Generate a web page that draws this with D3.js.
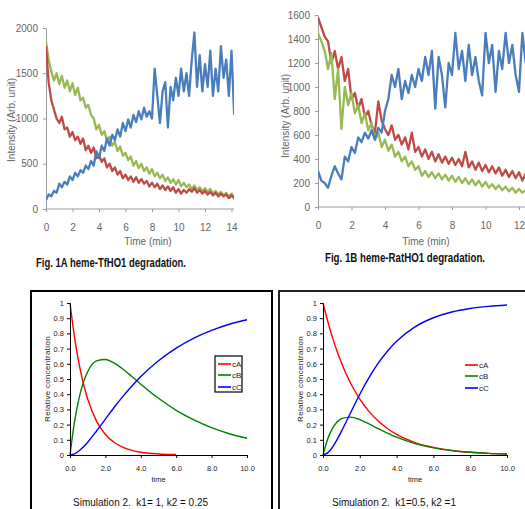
<!DOCTYPE html>
<html><head><meta charset="utf-8">
<script src="https://cdn.jsdelivr.net/npm/d3@7"></script>
<style>body{margin:0;background:#fff}svg{display:block}</style></head>
<body>
<script>
// ---------- Fig 1A: heme-TfHO1 degradation ----------
const timeA = [0,0.2,0.4,0.6,0.8,1,1.2,1.4,1.6,1.8,2,2.2,2.4,2.6,2.8,3,3.2,3.4,3.6,3.8,4,4.2,4.4,4.6,4.8,5,5.2,5.4,5.6,5.8,6,6.2,6.4,6.6,6.8,7,7.2,7.4,7.6,7.8,8,8.2,8.4,8.6,8.8,9,9.2,9.4,9.6,9.8,10,10.2,10.4,10.6,10.8,11,11.2,11.4,11.6,11.8,12,12.2,12.4,12.6,12.8,13,13.2,13.4,13.6,13.8,14,14.2,14.4];
const greenA = [1850,1650,1520,1420,1500,1380,1470,1340,1420,1300,1390,1260,1340,1200,1230,1120,1150,1040,1000,880,930,820,860,760,800,700,740,640,690,590,620,540,580,480,530,450,500,420,460,390,440,360,400,340,380,310,350,290,330,270,320,250,290,240,270,220,260,210,240,200,230,190,220,170,200,160,190,150,180,140,170,130,150];
const redA = [1800,1400,1200,1100,1000,950,1020,880,900,800,850,760,800,720,780,650,700,620,680,560,600,520,560,460,500,420,460,380,420,340,380,320,360,300,350,290,330,280,310,250,290,240,280,220,260,210,250,200,240,180,220,170,210,180,220,190,230,180,210,170,200,160,190,150,180,140,170,140,160,120,150,120,140];
const blueA = [100,160,140,200,180,280,240,300,270,360,320,400,360,430,400,480,440,530,480,640,560,700,640,780,700,820,760,880,800,950,860,990,900,1040,960,1080,990,1120,1020,1080,1000,1550,1250,950,1300,1400,900,1350,1200,1450,1250,1550,1300,1500,1250,1650,1950,1350,1700,1300,1600,1350,1750,1250,1550,1300,1800,1450,1650,1250,1750,1050,1500];
const xTicksA = [0,2,4,6,8,10,12,14];
const yTicksA = [0,500,1000,1500,2000];

// ---------- Fig 1B: heme-RatHO1 degradation ----------
const timeB = [0,0.2,0.4,0.6,0.8,1,1.2,1.4,1.6,1.8,2,2.2,2.4,2.6,2.8,3,3.2,3.4,3.6,3.8,4,4.2,4.4,4.6,4.8,5,5.2,5.4,5.6,5.8,6,6.2,6.4,6.6,6.8,7,7.2,7.4,7.6,7.8,8,8.2,8.4,8.6,8.8,9,9.2,9.4,9.6,9.8,10,10.2,10.4,10.6,10.8,11,11.2,11.4,11.6,11.8,12,12.2,12.4];
const redB = [1580,1500,1420,1380,1200,1300,1150,1250,1050,1150,900,950,820,900,750,800,680,620,880,720,650,600,680,560,600,520,580,480,620,460,500,420,480,400,460,380,440,370,420,360,410,350,400,340,460,330,380,310,370,300,350,290,340,280,330,260,310,250,300,240,290,220,280];
const greenB = [1450,1380,1300,1150,1280,900,1150,650,1000,850,950,780,850,700,780,640,700,560,620,500,560,470,520,420,460,380,420,340,380,310,340,260,300,250,290,240,280,230,270,220,260,210,250,200,240,190,230,180,220,170,210,160,190,150,180,140,170,130,160,120,150,120,140];
const blueB = [300,220,200,160,260,340,280,230,420,380,500,450,580,540,620,570,640,560,660,620,800,900,1100,1000,1150,900,1050,950,1100,1000,1150,1050,1250,1100,1300,820,1250,1100,830,1200,1100,1450,1150,1300,1050,1350,1100,1250,1050,930,1450,1200,1350,960,1300,1150,1450,1200,1350,1100,960,1450,1200];
const xTicksB = [0,2,4,6,8,10,12];
const yTicksB = [0,200,400,600,800,1000,1200,1400,1600];

// ---------- Simulations ----------
const simTime = [0,0.25,0.5,0.75,1,1.5,2,2.5,3,3.5,4,5,6,7,8,9,10];
const sim1A = [1,0.779,0.607,0.472,0.368,0.223,0.135,0.082,0.050,0.030,0.018,0.007,0.003,null,null,null,null];
const sim1B = [0,0.214,0.368,0.476,0.548,0.619,0.628,0.604,0.564,0.516,0.466,0.373,0.294,0.231,0.180,0.140,0.110];
const sim1C = [0,0.007,0.026,0.052,0.084,0.158,0.236,0.314,0.387,0.454,0.516,0.620,0.703,0.769,0.820,0.860,0.890];
const sim2A = [1,0.883,0.779,0.687,0.607,0.472,0.368,0.287,0.223,0.174,0.135,0.082,0.050,0.030,0.018,0.011,0.007];
const sim2B = [0,0.104,0.172,0.215,0.239,0.249,0.233,0.204,0.173,0.144,0.117,0.075,0.047,0.029,0.018,0.011,0.007];
const sim2C = [0,0.014,0.049,0.098,0.155,0.278,0.400,0.509,0.604,0.683,0.748,0.843,0.903,0.941,0.964,0.978,0.987];
const simXTicks = [0,2,4,6,8,10];
const simYTicks = [0,0.1,0.2,0.3,0.4,0.5,0.6,0.7,0.8,0.9,1];
const simLegend = ["cA","cB","cC"];

const W = 525, H = 509;
const svg = d3.select("body").append("svg").attr("width", W).attr("height", H)
  .style("background", "#fff");

const xlColors = {blue:"#4A7EBB", red:"#BE4B48", green:"#98B954"};
const SANS = "'Liberation Sans', Arial, sans-serif";
const NARROW = "'Liberation Sans Narrow', 'Liberation Sans', Arial, sans-serif";

function topChart(cfg) {
  const g = svg.append("g");
  const x = d3.scaleLinear().domain(cfg.xDomain).range(cfg.xRange);
  const y = d3.scaleLinear().domain(cfg.yDomain).range(cfg.yRange);
  const clipId = "clip" + cfg.id;
  svg.append("clipPath").attr("id", clipId).append("rect")
    .attr("x", cfg.xRange[0]).attr("y", 0)
    .attr("width", cfg.clipRight - cfg.xRange[0]).attr("height", cfg.yRange[0] + 2);

  const xa = g.append("g").attr("transform", `translate(0,${cfg.yRange[0]})`)
    .call(d3.axisBottom(x).tickValues(cfg.xTicks).tickFormat(d3.format("d")).tickSize(3).tickSizeOuter(0).tickPadding(12));
  const ya = g.append("g").attr("transform", `translate(${cfg.xRange[0]},0)`)
    .call(d3.axisLeft(y).tickValues(cfg.yTicks).tickFormat(d3.format("d")).tickSize(3).tickSizeOuter(0).tickPadding(5));
  [xa, ya].forEach(a => {
    a.select(".domain").attr("stroke", "#9a9a9a");
    a.selectAll(".tick line").attr("stroke", "#9a9a9a");
    a.selectAll("text").attr("fill", "#666").style("font-family", NARROW).style("font-size", "10px");
  });
  xa.select(".domain").attr("d", `M${cfg.xRange[0]},0H${cfg.axisRight}`);

  const line = d3.line().x((d, i) => x(cfg.time[i])).y(d => y(d));
  const lines = g.append("g").attr("clip-path", `url(#${clipId})`);
  cfg.series.forEach(s => {
    lines.append("path").datum(s.values).attr("d", line)
      .attr("fill", "none").attr("stroke", s.color).attr("stroke-width", 2.3)
      .attr("stroke-linejoin", "round");
  });

  g.append("text").attr("x", cfg.xTitle[0]).attr("y", cfg.xTitle[1])
    .attr("text-anchor", "middle").attr("fill", "#666")
    .style("font-family", NARROW).style("font-size", "10px").text("Time (min)");
  g.append("text").attr("transform", `translate(${cfg.yTitle[0]},${cfg.yTitle[1]}) rotate(-90)`)
    .attr("text-anchor", "middle").attr("fill", "#666")
    .style("font-family", NARROW).style("font-size", "10px").text("Intensity (Arb. unit)");
  g.append("text").attr("x", cfg.caption[0]).attr("y", cfg.caption[1])
    .attr("textLength", cfg.caption[2]).attr("lengthAdjust", "spacingAndGlyphs")
    .attr("fill", "#111").style("font-family", SANS).style("font-weight", "bold")
    .style("font-size", "12px").text(cfg.captionText);
}

topChart({
  id: "A", time: timeA, xDomain: [0, 14], xRange: [46, 231.5], yDomain: [0, 2000], yRange: [209, 28],
  clipRight: 234, axisRight: 234, xTicks: xTicksA, yTicks: yTicksA,
  series: [{values: greenA, color: xlColors.green}, {values: redA, color: xlColors.red}, {values: blueA, color: xlColors.blue}],
  xTitle: [148, 245], yTitle: [15, 120], caption: [36, 267, 150],
  captionText: "Fig. 1A heme-TfHO1 degradation."
});
topChart({
  id: "B", time: timeB, xDomain: [0, 12], xRange: [318, 519], yDomain: [0, 1600], yRange: [207, 15],
  clipRight: 525, axisRight: 525, xTicks: xTicksB, yTicks: yTicksB,
  series: [{values: redB, color: xlColors.red}, {values: greenB, color: xlColors.green}, {values: blueB, color: xlColors.blue}],
  xTitle: [426, 245], yTitle: [289, 116], caption: [325, 262, 160],
  captionText: "Fig. 1B heme-RatHO1 degradation."
});

// ---------- bottom simulation panels ----------
svg.append("rect").attr("x", 31).attr("y", 291).attr("width", 241).attr("height", 240)
  .attr("fill", "none").attr("stroke", "#000").attr("stroke-width", 2);
svg.append("rect").attr("x", 279).attr("y", 291).attr("width", 260).attr("height", 240)
  .attr("fill", "none").attr("stroke", "#222").attr("stroke-width", 2);

function simChart(cfg) {
  const g = svg.append("g");
  const x = d3.scaleLinear().domain([0, 10]).range(cfg.xRange);
  const y = d3.scaleLinear().domain([0, 1]).range([455, 303]);
  const line = d3.line().defined(d => d != null).curve(d3.curveMonotoneX)
    .x((d, i) => x(simTime[i])).y(d => y(d));
  const colors = ["#ff0000", "#008000", "#0000ff"];
  cfg.series.forEach((s, k) => {
    g.append("path").datum(s).attr("d", line).attr("fill", "none")
      .attr("stroke", colors[k]).attr("stroke-width", 1.4);
  });
  const xa = g.append("g").attr("transform", "translate(0,455)")
    .call(d3.axisBottom(x).tickValues(simXTicks).tickFormat(d3.format(".1f")).tickSize(3).tickSizeOuter(0).tickPadding(8));
  const ya = g.append("g").attr("transform", `translate(${cfg.xRange[0]},0)`)
    .call(d3.axisLeft(y).tickValues(simYTicks).tickFormat(d => (d === 0 || d === 1) ? String(d) : d.toFixed(1))
      .tickSize(3).tickSizeOuter(0).tickPadding(3));
  [xa, ya].forEach(a => {
    a.select(".domain").attr("stroke", "#000");
    a.selectAll(".tick line").attr("stroke", "#000");
    a.selectAll("text").attr("fill", "#222").style("font-family", SANS).style("font-size", "7.5px");
  });
  g.append("text").attr("x", (cfg.xRange[0] + cfg.xRange[1]) / 2).attr("y", 482)
    .attr("text-anchor", "middle").attr("fill", "#222").style("font-family", SANS).style("font-size", "7.5px").text("time");
  g.append("text").attr("transform", `translate(${cfg.yTitleX},379) rotate(-90)`)
    .attr("text-anchor", "middle").attr("fill", "#222").style("font-family", SANS).style("font-size", "8px")
    .style("letter-spacing", "0.3px").text("Relative concentration");
  g.append("text").attr("x", cfg.captionX).attr("y", 506).attr("fill", "#111")
    .style("font-family", SANS).style("font-size", "10px").attr("xml:space", "preserve").text(cfg.caption);

  const lg = g.append("g");
  if (cfg.legendBox) {
    lg.append("rect").attr("x", cfg.legendBox[0]).attr("y", cfg.legendBox[1])
      .attr("width", cfg.legendBox[2]).attr("height", cfg.legendBox[3])
      .attr("fill", "#fff").attr("stroke", "#000").attr("stroke-width", 1.2);
  }
  simLegend.forEach((name, k) => {
    const ly = cfg.legendY[k];
    lg.append("line").attr("x1", cfg.legendX).attr("x2", cfg.legendX + 13).attr("y1", ly).attr("y2", ly)
      .attr("stroke", colors[k]).attr("stroke-width", 1.6);
    lg.append("text").attr("x", cfg.legendX + 14).attr("y", ly + 3).attr("fill", "#222")
      .style("font-family", SANS).style("font-size", "8px").text(name);
  });
}

simChart({
  xRange: [70, 247], series: [sim1A, sim1B, sim1C], yTitleX: 50, captionX: 73,
  caption: "Simulation 2.  k1= 1, k2 = 0.25",
  legendBox: [215, 356, 27, 36], legendX: 218, legendY: [364, 375, 387]
});
simChart({
  xRange: [323, 507], series: [sim2A, sim2B, sim2C], yTitleX: 303, captionX: 332,
  caption: "Simulation 2.  k1=0.5, k2 =1",
  legendBox: null, legendX: 465, legendY: [365, 376, 388]
});
</script>
</body></html>
